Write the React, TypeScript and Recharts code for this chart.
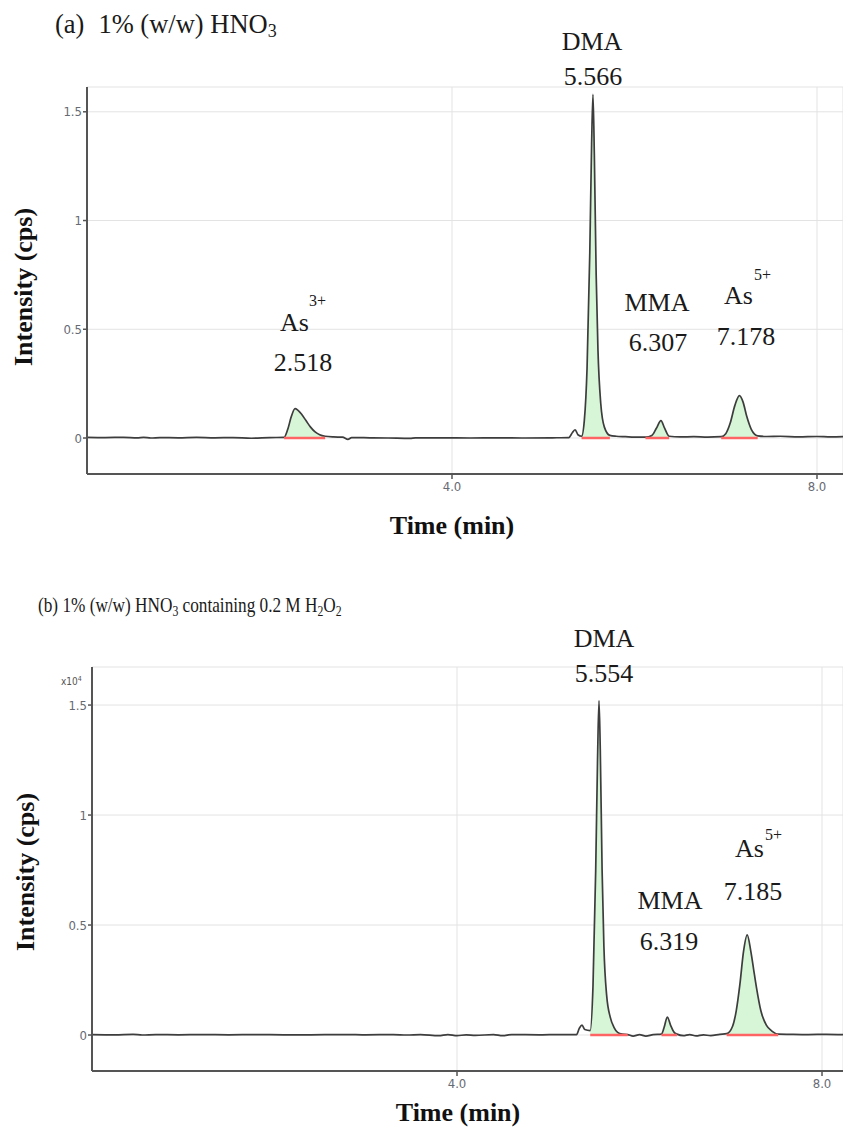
import React from 'react';
import { ComposedChart, Line, Area, XAxis, YAxis, CartesianGrid } from 'recharts';

// ---------- Data ----------
// Panel (a): 1% (w/w) HNO3
const timeA = [
  0.0, 0.2, 0.4, 0.55, 0.62, 0.7, 0.8, 1.0, 1.2, 1.4, 1.6, 1.8, 2.0,
  2.16, 2.2, 2.24, 2.28, 2.31, 2.35, 2.4, 2.45, 2.5, 2.55, 2.61,
  2.7, 2.8, 2.86, 2.9, 3.1, 3.3, 3.54, 3.6, 3.9, 4.2, 4.5, 4.8, 5.1, 5.28,
  5.32, 5.35, 5.38,
  5.42, 5.45, 5.48, 5.51, 5.53, 5.545, 5.56, 5.58, 5.6, 5.63, 5.67, 5.73,
  5.8, 5.9, 6.0,
  6.12, 6.19, 6.24, 6.29, 6.33, 6.38,
  6.5, 6.65, 6.8,
  6.95, 7.0, 7.05, 7.1, 7.15, 7.19, 7.23, 7.28, 7.35,
  7.45, 7.6, 7.8, 8.0, 8.15, 8.29,
];
const signalA = [
  0.003, 0.002, 0.003, 0.001, 0.003, 0.0, 0.002, 0.001, 0.003, 0.001, 0.002, -0.001, 0.002,
  0.003, 0.04, 0.1, 0.135, 0.128, 0.11, 0.08, 0.05, 0.028, 0.015, 0.008,
  0.005, 0.004, -0.006, 0.002, 0.001, 0.0, -0.002, 0.001, 0.001, 0.0, 0.001, 0.0, 0.001, 0.002,
  0.025, 0.038, 0.015,
  0.008, 0.08, 0.32, 0.85, 1.35, 1.58, 1.3, 0.75, 0.4, 0.16, 0.05, 0.012,
  0.008, 0.006, 0.004,
  0.004, 0.012, 0.045, 0.08, 0.045, 0.008,
  0.005, 0.006, 0.004,
  0.006, 0.02, 0.07, 0.15, 0.195, 0.165, 0.1, 0.04, 0.01,
  0.007, 0.008, 0.005, 0.007, 0.005, 0.006,
];
const peakStartA = [2.16, 5.42, 6.12, 6.95];
const peakEndA = [2.61, 5.73, 6.38, 7.35];

// Panel (b): 1% (w/w) HNO3 containing 0.2 M H2O2
const timeB = [
  0.0, 0.25, 0.45, 0.55, 0.7, 0.95, 1.2, 1.5, 1.8, 2.1, 2.4, 2.7, 3.0, 3.3, 3.45, 3.6,
  3.8, 3.9, 4.0, 4.1, 4.2, 4.4, 4.5, 4.6, 4.9, 5.2, 5.31,
  5.34, 5.37, 5.4,
  5.46, 5.49, 5.52, 5.54, 5.556, 5.57, 5.59, 5.61, 5.64, 5.68, 5.72, 5.76, 5.81, 5.87,
  5.93, 6.0, 6.07, 6.15,
  6.24, 6.27, 6.305, 6.34, 6.38, 6.41,
  6.48, 6.55, 6.62, 6.7, 6.78, 6.88,
  6.955, 7.02, 7.06, 7.1, 7.14, 7.18, 7.22, 7.25, 7.28, 7.33, 7.39, 7.45, 7.52,
  7.65, 7.85, 8.05, 8.23,
];
const signalB = [
  0.002, 0.001, 0.003, 0.0, 0.002, 0.001, 0.002, 0.001, 0.002, 0.001, 0.001, 0.002, 0.001, 0.002, 0.0, 0.002,
  -0.003, 0.002, -0.003, 0.001, -0.002, 0.002, -0.003, 0.002, 0.001, 0.002, 0.002,
  0.03, 0.045, 0.025,
  0.02, 0.22, 0.75, 1.25, 1.52, 1.3, 0.75, 0.4, 0.18, 0.08, 0.035, 0.012, 0.004, 0.002,
  -0.005, 0.002, -0.005, 0.002,
  0.004, 0.035, 0.082, 0.045, 0.012, 0.004,
  -0.003, 0.002, -0.004, 0.001, -0.003, 0.003,
  0.006, 0.04, 0.11, 0.23, 0.38, 0.455, 0.38, 0.3, 0.22, 0.11, 0.045, 0.018, 0.004,
  0.003, 0.002, 0.003, 0.002,
];
const peakStartB = [5.46, 6.24, 6.955];
const peakEndB = [5.87, 6.41, 7.52];

const yTicks = [0, 0.5, 1, 1.5];
const xTicks = [4, 8];

function buildRows(time: number[], signal: number[], starts: number[], ends: number[]) {
  return time.map((t, i) => {
    const inPeak = starts.some((s, k) => t >= s - 1e-9 && t <= ends[k] + 1e-9);
    return { t, y: signal[i], fill: inPeak ? signal[i] : null, base: inPeak ? 0 : null };
  });
}

const rowsA = buildRows(timeA, signalA, peakStartA, peakEndA);
const rowsB = buildRows(timeB, signalB, peakStartB, peakEndB);

// ---------- Styles ----------
const SERIF = "'Liberation Serif', 'Times New Roman', serif";
const TICKFONT = "'Liberation Sans Narrow', 'DejaVu Sans Condensed', 'Liberation Sans', sans-serif";
const AXIS = '#555';

type TxtProps = {
  x: number; y: number; size: number; anchor?: 'start' | 'middle';
  bold?: boolean; color?: string; font?: string; children: React.ReactNode; scaleX?: number;
};
function Txt({ x, y, size, anchor = 'start', bold, color = '#1a1a1a', font = SERIF, children, scaleX = 1 }: TxtProps) {
  const tx = anchor === 'middle' ? 'translateX(-50%)' : '';
  return (
    <div
      style={{
        position: 'absolute', left: x, top: y - 0.8375 * size, fontSize: size, lineHeight: `${size}px`,
        fontFamily: font, fontWeight: bold ? 'bold' : 'normal', color, whiteSpace: 'nowrap',
        transform: `${tx} scaleX(${scaleX})`, transformOrigin: anchor === 'middle' ? 'center' : 'left',
      }}
    >
      {children}
    </div>
  );
}

function Sub({ children }: { children: React.ReactNode }) {
  return <span style={{ fontSize: '0.68em', position: 'relative', top: '0.22em' }}>{children}</span>;
}

function VTitle({ cx, cy }: { cx: number; cy: number }) {
  return (
    <div
      style={{
        position: 'absolute', left: cx, top: cy, fontSize: 26, lineHeight: '26px', fontFamily: SERIF,
        fontWeight: 'bold', color: '#111', whiteSpace: 'nowrap',
        transform: 'translate(-50%, -50%) rotate(-90deg)',
      }}
    >
      Intensity (cps)
    </div>
  );
}

type PanelProps = {
  rows: any[]; top: number; height: number;
  margin: { top: number; right: number; bottom: number; left: number };
  xMax: number; yMin: number; yMax: number;
};
function Chromatogram({ rows, top, height, margin, xMax, yMin, yMax }: PanelProps) {
  const tickStyle = { fill: '#666a72', fontSize: 13, fontFamily: TICKFONT };
  return (
    <div style={{ position: 'absolute', left: 0, top }}>
      <ComposedChart width={843} height={height} data={rows} margin={margin}>
        <CartesianGrid stroke="#e3e3e3" strokeWidth={1} />
        <XAxis
          type="number" dataKey="t" domain={[0, xMax]} ticks={xTicks} allowDataOverflow
          tickFormatter={(v: number) => v.toFixed(1)} height={30} interval={0}
          axisLine={{ stroke: AXIS, strokeWidth: 2 }} tickLine={{ stroke: AXIS, strokeWidth: 1.5 }}
          tickSize={5} tickMargin={3} tick={tickStyle}
        />
        <YAxis
          type="number" domain={[yMin, yMax]} ticks={yTicks} allowDataOverflow width={40} interval={0}
          tickFormatter={(v: number) => String(v)}
          axisLine={{ stroke: AXIS, strokeWidth: 2 }} tickLine={{ stroke: AXIS, strokeWidth: 1.5 }}
          tickSize={4} tickMargin={1} tick={tickStyle}
        />
        <Area
          dataKey="fill" type="monotone" fill="#d7f5d7" fillOpacity={1} stroke="none" baseValue={0}
          connectNulls={false} isAnimationActive={false} dot={false} activeDot={false}
        />
        <Line
          dataKey="y" type="monotone" stroke="#3d3d3d" strokeWidth={1.7} dot={false}
          activeDot={false} isAnimationActive={false}
        />
        <Line
          dataKey="base" type="linear" stroke="#ff6464" strokeWidth={2.4} dot={false}
          activeDot={false} connectNulls={false} isAnimationActive={false}
        />
      </ComposedChart>
    </div>
  );
}

export default function App() {
  return (
    <div style={{ position: 'absolute', left: 0, top: 0, width: 843, height: 1131, background: '#fff', overflow: 'hidden' }}>
      {/* Panel (a) */}
      <Chromatogram
        rows={rowsA} top={0} height={560}
        margin={{ top: 87, right: 0, bottom: 56, left: 47 }}
        xMax={8.285} yMin={-0.1655} yMax={1.614}
      />
      <Txt x={55} y={33} size={26.5}>
        (a)<span style={{ display: 'inline-block', width: 14 }} />1% (w/w) HNO<Sub>3</Sub>
      </Txt>
      <Txt x={592} y={51} size={26} anchor="middle">DMA</Txt>
      <Txt x={593} y={86} size={26} anchor="middle">5.566</Txt>
      <Txt x={280} y={332} size={26}>As</Txt>
      <Txt x={309} y={306} size={16}>3+</Txt>
      <Txt x={303} y={372} size={26} anchor="middle">2.518</Txt>
      <Txt x={657} y={312} size={26} anchor="middle">MMA</Txt>
      <Txt x={658} y={352} size={26} anchor="middle">6.307</Txt>
      <Txt x={724} y={305} size={26}>As</Txt>
      <Txt x={754} y={280} size={16}>5+</Txt>
      <Txt x={746} y={346} size={26} anchor="middle">7.178</Txt>
      <Txt x={452} y={535} size={26} anchor="middle" bold color="#111">Time (min)</Txt>
      <VTitle cx={24} cy={287} />

      {/* Panel (b) */}
      <Chromatogram
        rows={rowsB} top={585} height={545}
        margin={{ top: 82, right: 0, bottom: 29, left: 52 }}
        xMax={8.23} yMin={-0.1636} yMax={1.673}
      />
      <Txt x={38} y={613} size={21} scaleX={0.82}>
        (b) 1% (w/w) HNO<Sub>3</Sub> containing 0.2 M H<Sub>2</Sub>O<Sub>2</Sub>
      </Txt>
      <Txt x={61} y={685} size={10} font={TICKFONT} color="#555">
        x10<span style={{ fontSize: 7, position: 'relative', top: -4 }}>4</span>
      </Txt>
      <Txt x={604} y={648} size={26} anchor="middle">DMA</Txt>
      <Txt x={604} y={683} size={26} anchor="middle">5.554</Txt>
      <Txt x={670} y={910} size={26} anchor="middle">MMA</Txt>
      <Txt x={669} y={951} size={26} anchor="middle">6.319</Txt>
      <Txt x={735} y={858} size={26}>As</Txt>
      <Txt x={765} y={840} size={16}>5+</Txt>
      <Txt x={753} y={901} size={26} anchor="middle">7.185</Txt>
      <Txt x={458} y={1122} size={26} anchor="middle" bold color="#111">Time (min)</Txt>
      <VTitle cx={26} cy={872} />
    </div>
  );
}
